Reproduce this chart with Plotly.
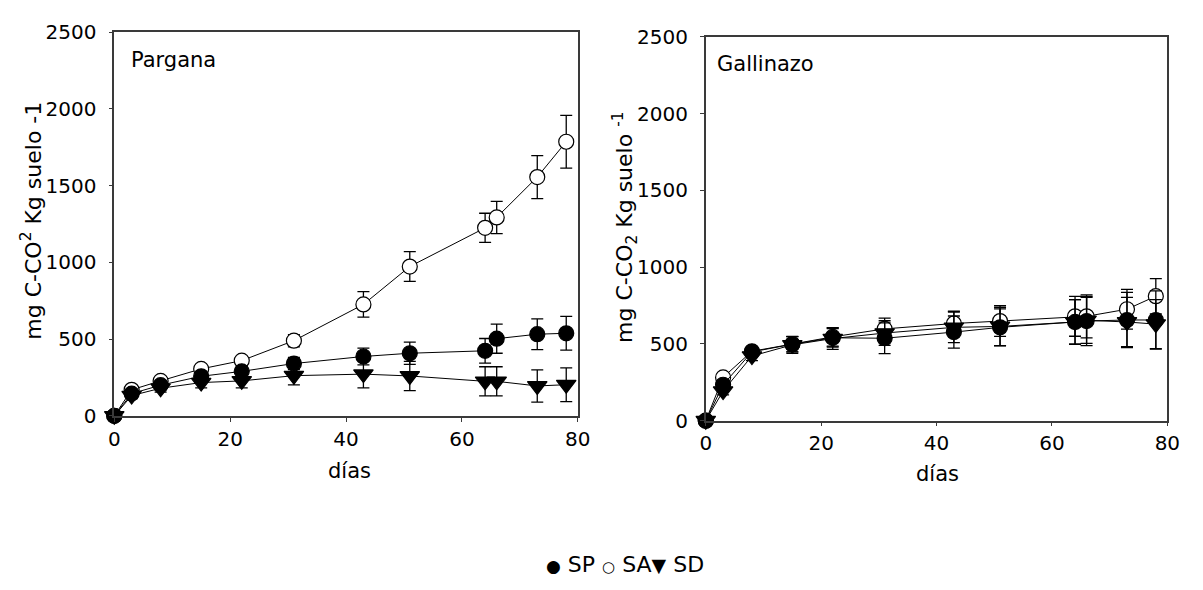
import plotly.graph_objects as go

# Incubation days
dias = [0, 3, 8, 15, 22, 31, 43, 51, 64, 66, 73, 78]

# Pargana: cumulative C-CO2 (mg C-CO2 kg suelo^-1) and error
parg_sp = [0, 145, 200, 258, 290, 341, 387, 408, 424, 503, 532, 538]
parg_sp_err = [0, 20, 25, 30, 35, 40, 55, 72, 80, 95, 100, 110]
parg_sa = [0, 170, 228, 306, 360, 490, 726, 973, 1225, 1293, 1556, 1786]
parg_sa_err = [0, 15, 20, 25, 25, 40, 83, 97, 95, 105, 140, 172]
parg_sd = [0, 132, 180, 217, 228, 262, 272, 260, 225, 225, 195, 203]
parg_sd_err = [0, 20, 25, 35, 45, 60, 90, 95, 95, 95, 105, 110]

# Gallinazo
gall_sp = [0, 234, 448, 498, 540, 537, 577, 608, 643, 649, 656, 656]
gall_sp_err = [0, 25, 30, 50, 60, 100, 105, 120, 145, 160, 180, 190]
gall_sa = [0, 282, 452, 498, 546, 598, 633, 649, 680, 680, 726, 811]
gall_sa_err = [0, 20, 30, 50, 60, 70, 80, 100, 130, 140, 130, 115]
gall_sd = [0, 193, 421, 494, 535, 571, 608, 614, 643, 654, 643, 629]
gall_sd_err = [0, 25, 30, 55, 70, 80, 100, 125, 145, 150, 160, 160]

FONT = "'DejaVu Sans', Verdana, sans-serif"
INK = "#000000"
AXIS = "#3a3a3a"

fig = go.Figure()


def add_series(xaxis, yaxis, y, err, symbol, fill):
    fig.add_trace(go.Scatter(
        x=dias, y=y, xaxis=xaxis, yaxis=yaxis,
        mode="lines+markers",
        line=dict(color=INK, width=1),
        marker=dict(symbol=symbol, size=15 if symbol == "circle" else 17,
                    color=fill, line=dict(color=INK, width=1.2)),
        error_y=dict(type="data", array=err, visible=True,
                     color=INK, thickness=1.3, width=6),
        cliponaxis=False, showlegend=False,
    ))


for xa, ya, sa, sae, sp, spe, sd, sde in [
    ("x", "y", parg_sa, parg_sa_err, parg_sp, parg_sp_err, parg_sd, parg_sd_err),
    ("x2", "y2", gall_sa, gall_sa_err, gall_sp, gall_sp_err, gall_sd, gall_sd_err),
]:
    add_series(xa, ya, sa, sae, "circle", "white")
    add_series(xa, ya, sp, spe, "circle", INK)
    add_series(xa, ya, sd, sde, "triangle-down", INK)

W, H = 1203, 590

common_x = dict(range=[0, 80], tickvals=[0, 20, 40, 60, 80], ticks="outside",
                ticklen=4, tickcolor=AXIS, showline=True, linecolor=AXIS,
                linewidth=1.5, mirror=True, showgrid=False, zeroline=False,
                tickfont=dict(family=FONT, size=20, color=INK))
common_y = dict(range=[0, 2500], tickvals=[0, 500, 1000, 1500, 2000, 2500],
                ticks="outside", ticklen=4, tickcolor=AXIS, showline=True,
                linecolor=AXIS, linewidth=1.5, mirror=True, showgrid=False,
                zeroline=False, ticklabelstandoff=8,
                tickfont=dict(family=FONT, size=20, color=INK))

fig.update_layout(
    width=W, height=H,
    margin=dict(l=0, r=0, t=0, b=0),
    paper_bgcolor="white", plot_bgcolor="white",
    xaxis=dict(domain=[110 / W, 581 / W], anchor="y", **common_x),
    yaxis=dict(domain=[1 - 421 / H, 1 - 21 / H], anchor="x", **common_y),
    xaxis2=dict(domain=[711 / W, 1180 / W], anchor="y2", **common_x),
    yaxis2=dict(domain=[1 - 426 / H, 1 - 26 / H], anchor="x2", **common_y),
    font=dict(family=FONT, color=INK),
)

legend_text = ('<span style="font-size:17px">●</span> SP '
               '<span style="font-size:15px">○</span> SA'
               '<span style="font-size:19px">▼</span> SD')

annotations = [
    dict(text="Pargana", x=125 / W, y=1 - 50 / H, xanchor="left", yanchor="middle", size=21),
    dict(text="Gallinazo", x=720 / W, y=1 - 54 / H, xanchor="left", yanchor="middle", size=21),
    dict(text="días", x=349 / W, y=1 - 478 / H, xanchor="center", yanchor="middle", size=21),
    dict(text="días", x=946 / W, y=1 - 482 / H, xanchor="center", yanchor="middle", size=21),
    dict(text="mg C-CO<sup>2</sup> Kg suelo -1", x=26 / W, y=1 - 218 / H,
         textangle=-90, xanchor="center", yanchor="middle", size=22),
    dict(text="mg C-CO<sub>2</sub> Kg suelo <sup>-1</sup>", x=629 / W, y=1 - 225 / H,
         textangle=-90, xanchor="center", yanchor="middle", size=22),
    dict(text=legend_text, x=629 / W, y=1 - 576 / H,
         xanchor="center", yanchor="middle", size=22),
]
for a in annotations:
    sz = a.pop("size")
    a.update(xref="paper", yref="paper", showarrow=False,
             font=dict(family=FONT, size=sz, color=INK))
fig.update_layout(annotations=annotations)

fig.write_html("out.html")
